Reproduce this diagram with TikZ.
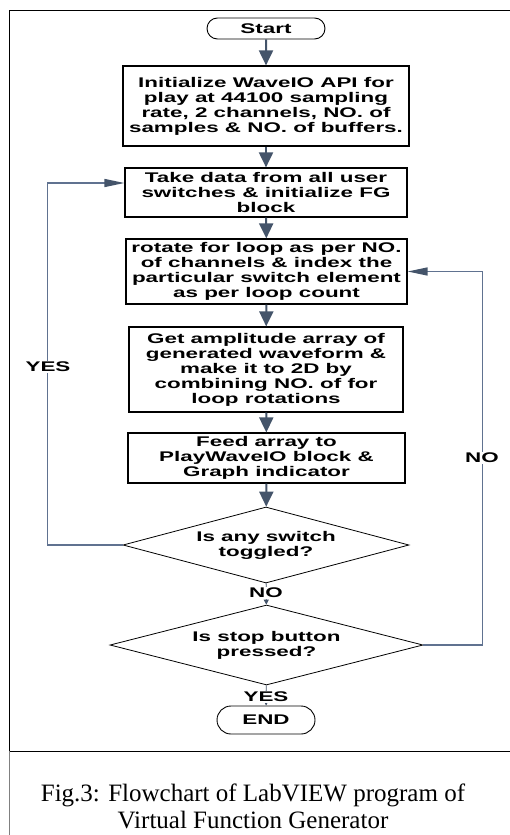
\documentclass[tikz,border=0pt]{standalone}
\usepackage{fontspec}
\setmainfont{Liberation Serif}
\newfontfamily\boxfont[FakeStretch=1.6]{Liberation Sans}
\usetikzlibrary{shapes.geometric, shapes.misc, arrows.meta}
\definecolor{arrowblue}{RGB}{68,84,106}
\definecolor{loopblue}{RGB}{96,114,144}

\begin{document}
\begin{tikzpicture}[x=1pt,y=-1pt]
\tikzstyle{term} = [rounded rectangle, draw=black, line width=0.9pt, inner sep=0pt, font=\boxfont\bfseries\fontsize{14}{15}\selectfont]
\tikzstyle{process} = [rectangle, draw=black, line width=1.2pt, inner sep=0pt, align=center, font=\boxfont\bfseries\fontsize{14}{15}\selectfont]
\tikzstyle{decision} = [diamond, aspect=3.8, draw=black, line width=0.8pt, inner sep=0pt, align=center, font=\boxfont\bfseries\fontsize{14}{15}\selectfont]
\tikzstyle{tag} = [fill=white, inner sep=1pt, font=\boxfont\bfseries\fontsize{14}{15}\selectfont]

\tikzstyle{arrow} = [line width=2pt, draw=arrowblue, -{Triangle[length=15pt,width=14pt]}]
\tikzstyle{loopline} = [line width=1.4pt, draw=loopblue, -{Triangle[length=20pt,width=8pt,color=arrowblue]}]
\tikzstyle{small} = [line width=0.9pt, draw=arrowblue, -{Triangle[length=5pt,width=5pt]}]

\useasboundingbox (0,0) rectangle (510,835);

% frame
\draw [line width=1pt] (510,10) -- (9,10) -- (9,751) -- (510,751);
\draw [line width=1pt, gray] (9,751) -- (9,835);

\node (start) [term, minimum width=118pt, minimum height=21pt] at (266,28.5) {Start};
\node (init) [process, minimum width=286pt, minimum height=80pt] at (266,106) {Initialize WaveIO API for\\play at 44100 sampling\\rate, 2 channels, NO. of\\samples \& NO. of buffers.};
\node (take) [process, minimum width=282pt, minimum height=49pt] at (266,192.5) {Take data from all user\\switches \& initialize FG\\block};
\node (rotate) [process, minimum width=281pt, minimum height=65pt] at (266.5,271.5) {rotate for loop as per NO.\\of channels \& index the\\particular switch element\\as per loop count};
\node (ampl) [process, minimum width=274pt, minimum height=85pt] at (266,369.5) {Get amplitude array of\\generated waveform \&\\make it to 2D by\\combining NO. of for\\loop rotations};
\node (feed) [process, minimum width=277pt, minimum height=50pt] at (266.5,458) {Feed array to\\PlayWaveIO block \&\\Graph indicator};
\node (toggle) [decision, minimum width=286pt, minimum height=76pt] at (266,545) {Is any switch\\toggled?};
\node (stop) [decision, minimum width=313pt, minimum height=80pt] at (266.5,645) {Is stop button\\pressed?};
\node (end) [term, minimum width=98pt, minimum height=28pt] at (266,720) {END};

\draw [arrow] (start) -- (init);
\draw [arrow] (init) -- (take);
\draw [arrow] (take) -- (rotate);
\draw [arrow] (rotate) -- (ampl);
\draw [arrow] (ampl) -- (feed);
\draw [arrow] (feed) -- (toggle);
\draw [small] (toggle) -- (stop);
\draw [small] (stop) -- (end);

\draw [loopline] (toggle.west) -- ++(-75,0) |- ([yshift=9.5pt]take.west);
\draw [loopline] (stop.east) -- ++(59,0) |- (rotate.east);

\node (no1) [tag] at (266,593) {NO};
\node (yes1) [tag] at (266,697) {YES};
\node (yes2) [tag] at (48,367) {YES};
\node (no2) [tag] at (482,458) {NO};

\node (caption) [align=center, font=\fontsize{25}{27}\selectfont] at (253,806) {Fig.3: Flowchart of LabVIEW program of\\Virtual Function Generator};

\end{tikzpicture}
\end{document}
